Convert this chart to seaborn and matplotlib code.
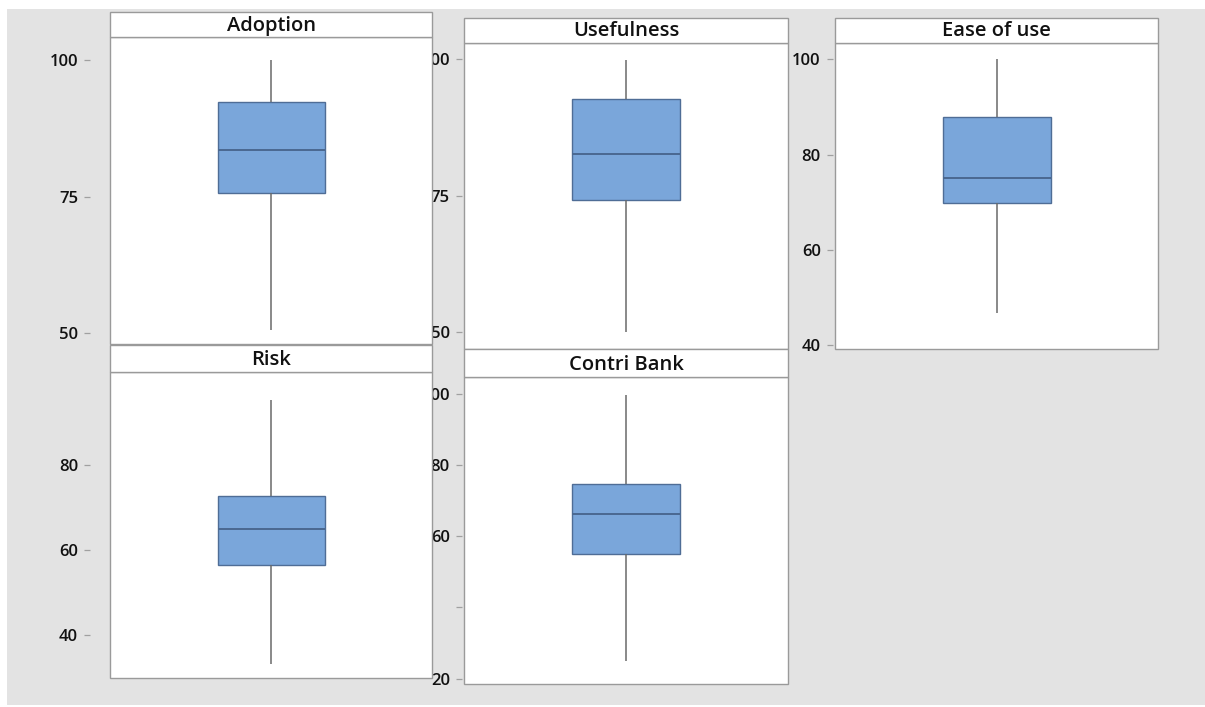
import numpy as np
import pandas as pd
import matplotlib
matplotlib.use("Agg")
import matplotlib.pyplot as plt
from matplotlib.patches import Rectangle
import seaborn as sns

# Five-number summaries of each construct score
constructs = ["Adoption", "Usefulness", "Ease of use", "Risk", "Contri Bank"]
minimums = [50.6, 50.0, 46.7, 33.2, 25.0]
lower_quartiles = [75.6, 74.2, 69.8, 56.6, 55.0]
medians = [83.6, 82.6, 75.0, 65.1, 66.2]
upper_quartiles = [92.4, 92.7, 87.9, 72.8, 74.7]
maximums = [100.0, 99.8, 100.0, 95.3, 99.8]

# Axis ticks per panel
y_ticks = {
    "Adoption": [50, 75, 100],
    "Usefulness": [50, 75, 100],
    "Ease of use": [40, 60, 80, 100],
    "Risk": [40, 60, 80],
    "Contri Bank": [20, 40, 60, 80, 100],
}
y_tick_labels = {
    "Adoption": ["50", "75", "100"],
    "Usefulness": ["50", "75", "100"],
    "Ease of use": ["40", "60", "80", "100"],
    "Risk": ["40", "60", "80"],
    "Contri Bank": ["20", "", "60", "80", "100"],
}

rows = []
for i, name in enumerate(constructs):
    for v in (minimums[i], lower_quartiles[i], medians[i], upper_quartiles[i], maximums[i]):
        rows.append({"construct": name, "score": v})
scores = pd.DataFrame(rows)

sns.set_style("white")
plt.rcParams["font.family"] = ["Open Sans", "DejaVu Sans"]

W, H = 1205, 707
fig = plt.figure(figsize=(W / 100, H / 100), dpi=100, facecolor="white")
fig.add_artist(Rectangle((7 / W, 2 / H), (W - 7) / W, (H - 11) / H,
                         transform=fig.transFigure, facecolor="#e3e3e3",
                         edgecolor="none", zorder=-10))

# panel layout in pixels: x0, x1, strip top, plot top, plot bottom, tick offset, y-limits, stacking
layout = {
    "Adoption":    (110.5, 432.3, 12.3, 37.0, 344.3, 20.0, (48.0, 104.2), 3),
    "Usefulness":  (464.3, 787.7, 18.3, 42.7, 349.3, 2.0, (46.9, 103.0), 2),
    "Ease of use": (835.0, 1158.3, 18.3, 42.7, 349.0, 1.8, (39.2, 103.5), 1),
    "Risk":        (110.5, 432.3, 345.0, 371.7, 677.7, 20.0, (30.0, 102.0), 3),
    "Contri Bank": (464.3, 787.7, 349.3, 376.7, 684.3, 2.0, (18.4, 104.9), 2),
}

frame_color = "#9a9a9a"
box_color = "#7aa6da"

for name in constructs:
    x0, x1, s_top, p_top, p_bot, off, ylim, z = layout[name]
    ax = fig.add_axes([x0 / W, 1 - p_bot / H, (x1 - x0) / W, (p_bot - p_top) / H])
    ax.set_zorder(z)
    ax.set_facecolor("white")

    sns.boxplot(data=scores[scores["construct"] == name], y="score", ax=ax,
                whis=(0, 100), width=0.8, color=box_color, saturation=1,
                linecolor="#4f6d96", linewidth=1.0, showcaps=False,
                whiskerprops=dict(color="#6a6a6a", linewidth=1.1),
                medianprops=dict(color="#4a6890", linewidth=1.4))

    ax.set_xlim(-1.2, 1.2)
    ax.set_ylim(*ylim)
    ax.set_xticks([])
    ax.set_xlabel("")
    ax.set_ylabel("")
    for s in ("top", "right", "bottom"):
        ax.spines[s].set_visible(False)
    ax.spines["left"].set_position(("outward", off * 0.72))
    ax.spines["left"].set_visible(False)
    ax.set_yticks(y_ticks[name], y_tick_labels[name])
    ax.tick_params(axis="y", left=True, length=4.0, width=0.9, color="#a0a0a0",
                   pad=5.0, labelsize=12, labelcolor="#111111")
    for lab in ax.get_yticklabels():
        lab.set_fontweight("semibold")

    ax_h = p_bot - p_top
    ax.add_patch(Rectangle((0, 0), 1, 1, transform=ax.transAxes, fill=False,
                           edgecolor=frame_color, linewidth=1.0, clip_on=False, zorder=5))
    sh = (p_top - s_top) / ax_h
    ax.add_patch(Rectangle((0, 1), 1, sh, transform=ax.transAxes, facecolor="white",
                           edgecolor=frame_color, linewidth=1.0, clip_on=False, zorder=5))
    ax.text(0.5, 1 + 6.5 / ax_h, name, transform=ax.transAxes, ha="center",
            va="baseline", fontsize=14.5, fontweight="semibold", color="#111111",
            zorder=6, clip_on=False)

fig.savefig("out.png", dpi=100, facecolor=fig.get_facecolor())
